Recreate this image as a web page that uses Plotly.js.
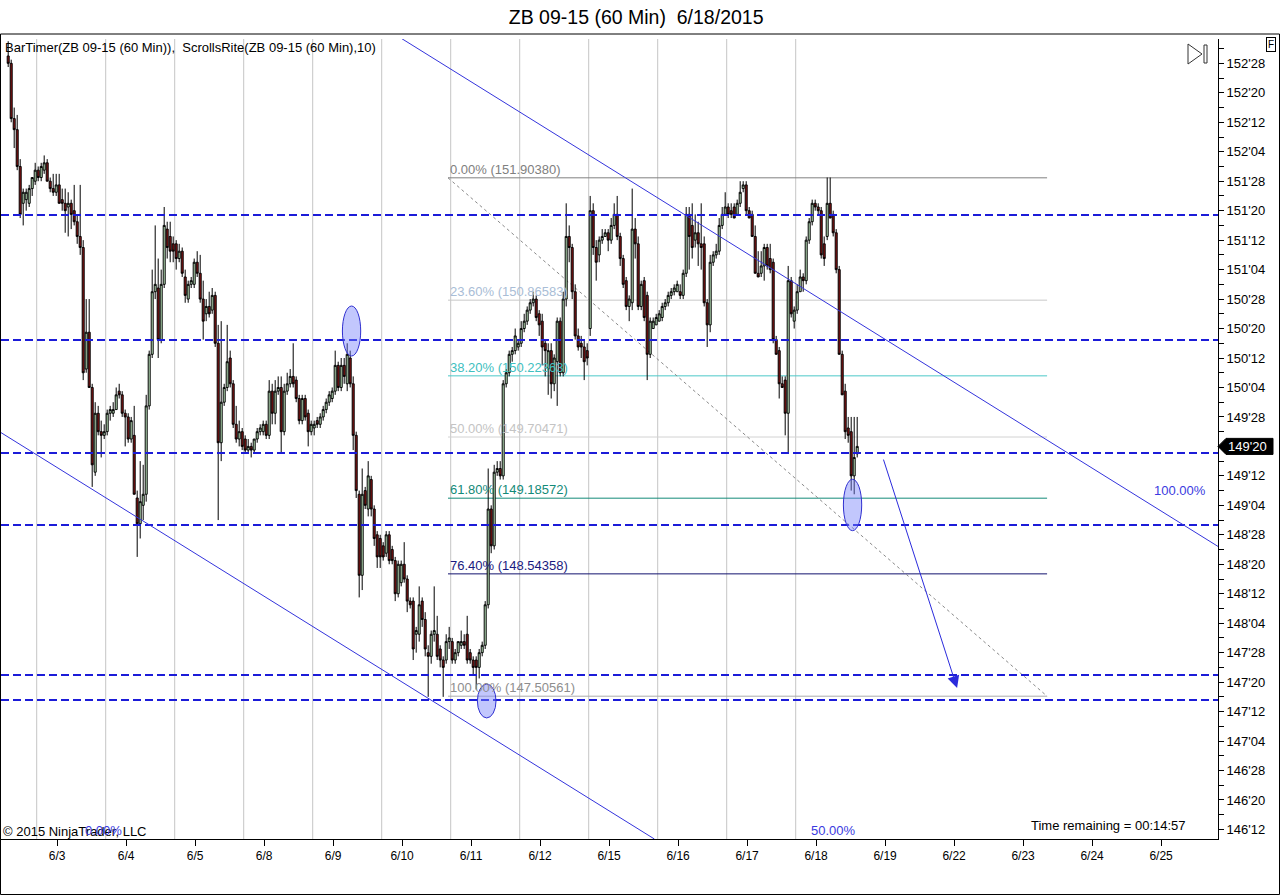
<!DOCTYPE html>
<html>
<head>
<meta charset="utf-8">
<script src="https://cdn.plot.ly/plotly-3.0.1.min.js"></script>
<style>
  body { margin: 0; background: #fff; }
  #chart { width: 1280px; height: 895px; }
</style>
</head>
<body>
<div id="chart"></div>
<script>
// ZB 09-15 hourly bars, prices in 32nds above 146'00 (so 116 = 149'20)
// one line per session, first line is the tail of 6/2
var barOpen = [
  222,220,205,202,192,182,183,182,186,188,
  191,189,191,193,188,186,185,187,183,182,181,182,180,177,173,170,137,147,132,109,125,120,119,
  120,125,125,126,131,130,125,124,118,119,102,95,100,103,127,141,158,159,145,160,175,173,171,
  171,167,169,162,156,160,160,166,163,156,152,154,153,157,144,117,128,132,140,133,122,118,120,
  118,115,116,115,118,120,120,122,119,131,125,131,132,120,131,133,135,134,129,123,129,125,120,
  121,123,122,124,126,128,129,131,138,132,138,133,140,133,119,103,81,104,99,107,99,92,91,
  89,87,92,88,85,76,79,84,80,74,74,65,65,74,69,60,59,65,65,61,58,58,63,
  63,58,60,62,63,65,60,58,58,56,60,62,73,99,89,109,110,108,133,136,141,142,143,
  144,148,150,153,155,156,152,150,144,137,142,133,139,150,136,156,173,170,158,146,144,143,142,
  148,180,170,168,172,173,174,172,176,179,173,167,161,154,155,175,171,154,161,157,141,148,149,
  150,151,154,155,157,158,158,158,157,163,179,176,172,174,171,171,155,149,166,168,169,176,179,
  181,180,181,179,182,186,187,180,179,173,163,163,165,170,167,166,145,142,133,134,125,161,150,
  153,158,162,161,172,177,182,181,180,171,173,182,179,174,164,141,131,121,120,108,114
];
var barHigh = [
  226,221,208,206,194,186,186,187,189,193,
  192,193,195,194,189,190,190,190,186,186,185,183,187,179,187,172,156,156,133,128,127,123,122,
  126,127,128,132,133,131,126,125,124,127,104,112,111,130,142,164,176,167,164,181,177,177,173,
  172,171,170,164,161,162,167,169,168,161,156,158,159,158,149,150,133,149,142,134,127,123,121,
  119,118,117,118,121,122,123,123,134,133,134,135,135,133,136,137,144,135,130,130,130,126,123,
  123,124,125,127,129,131,132,142,139,140,140,144,142,135,120,104,110,105,112,108,100,93,92,
  90,93,93,89,86,85,85,90,81,75,75,67,78,75,71,62,66,78,70,62,59,65,67,
  64,61,63,66,65,70,61,59,59,61,63,74,110,100,111,112,112,134,137,142,143,148,145,
  150,152,154,156,158,157,153,152,145,144,144,141,151,151,158,182,176,171,160,148,146,145,144,
  184,182,172,173,175,175,175,178,182,184,174,168,162,157,186,178,173,161,162,158,151,151,152,
  153,155,156,158,159,160,161,160,164,181,181,182,179,177,182,173,156,168,169,171,178,181,185,
  182,182,182,183,188,188,188,181,180,176,169,169,171,171,171,167,146,143,135,135,165,162,154,
  160,164,163,173,178,183,183,182,181,173,189,189,180,175,165,142,133,124,124,124,124
];
var barLow = [
  219,204,197,191,178,176,180,181,184,187,
  188,188,190,188,185,184,184,182,180,174,173,175,176,171,168,134,136,132,105,108,119,113,118,
  119,123,124,126,129,124,116,117,117,103,86,91,96,101,126,140,156,140,144,159,167,166,166,
  164,166,162,155,155,159,159,162,155,145,150,151,152,143,96,112,127,131,132,121,117,116,115,
  114,114,113,114,117,119,119,118,118,122,122,130,114,119,130,132,132,128,122,122,123,116,119,
  119,121,121,123,125,127,128,130,131,131,133,131,132,115,102,75,77,99,97,97,89,83,83,
  85,86,84,84,74,75,78,79,71,72,58,60,63,67,59,48,57,63,58,56,48,57,61,
  57,57,59,61,61,57,57,54,50,53,59,61,72,87,88,108,107,107,132,135,139,141,142,
  143,147,149,152,154,150,146,138,135,130,129,131,127,135,135,154,166,156,145,142,140,134,138,
  146,168,161,166,171,173,169,171,175,172,165,159,153,150,153,167,153,153,150,134,140,148,149,
  150,150,153,154,156,157,158,156,156,162,164,167,170,165,164,154,143,147,165,167,168,175,179,
  178,178,178,179,181,185,179,178,173,163,162,162,161,164,163,144,141,129,132,119,114,151,148,
  152,158,158,160,171,176,180,179,167,165,172,178,173,163,141,130,118,117,104,103,113
];
var barClose = [
  220,205,202,192,179,185,185,186,189,191,
  189,192,193,188,186,185,187,182,182,180,182,179,177,173,170,136,147,132,111,125,120,119,120,
  125,126,126,130,130,125,124,118,123,103,95,101,103,127,141,158,160,145,160,176,170,169,169,
  167,169,163,157,160,161,166,163,156,150,154,152,157,144,117,128,132,139,133,122,118,120,116,
  115,116,115,118,120,121,122,119,131,125,131,132,120,131,133,135,133,129,123,129,124,120,122,
  122,122,124,126,128,130,131,138,132,138,135,141,133,119,104,81,103,100,108,99,91,86,86,
  86,92,85,85,76,84,84,80,74,73,61,66,73,69,61,59,65,66,59,58,56,63,64,
  58,60,63,63,62,58,58,56,56,60,62,73,99,89,109,110,108,133,136,141,142,146,144,
  148,150,153,155,156,151,149,143,142,142,133,140,150,136,156,173,170,158,146,143,143,139,140,
  180,170,166,172,173,174,172,176,179,173,167,160,154,156,175,171,154,160,151,141,150,150,151,
  152,154,155,157,158,159,160,157,163,179,173,170,174,171,170,155,149,166,168,169,176,179,181,
  179,179,178,182,185,187,180,178,173,163,162,165,170,165,164,145,141,133,132,125,161,152,153,
  158,162,161,172,177,182,181,180,168,167,182,178,174,164,141,130,120,119,108,113,116
];
var firstBar = -10;          // bars of 6/2 before the 6/3 session
var barsPerSession = 23;
var dayLabels = ['6/3','6/4','6/5','6/8','6/9','6/10','6/11','6/12','6/15','6/16','6/17','6/18',
                 '6/19','6/22','6/23','6/24','6/25'];
var tradedSessions = 12;     // session separators drawn for 6/3 .. 6/18

// drawing objects, anchored as (bar, price)
var srLevels = [151.588, 150.527, 149.569, 148.958, 147.685, 147.473];
var fibPct = [0, 23.6, 38.2, 50, 61.8, 76.4, 100];
var fibPrice = [151.90380, 150.86583, 150.22363, 149.70471, 149.18572, 148.54358, 147.50561];
var fibBars = [136.6, 336.3];
var fibLineColors = ['#808080', '#c8c8c8', '#4cc8c8', '#d2d2d2', '#138a78', '#12126e', '#ababab'];
var fibTextColors = ['#808080', '#a9bdd6', '#40c0c0', '#c4c4c4', '#138a78', '#1a1a80', '#8e8e8e'];
var channelUpper = [[121.1, 153.086], [393.3, 148.776]];
var channelLower = [[-12.4, 149.742], [205.4, 146.294]];
var arrowFrom = [281.6, 149.526];
var arrowTo = [306.3, 147.575];
var ellipses = [
  [101.4, 107.5, 150.392, 150.816],
  [268.4, 274.5, 148.910, 149.346],
  [146.4, 152.6, 147.321, 147.609]
];

var BASE = 146;
var FONT = 'Liberation Sans, Arial, sans-serif';

function toPrice(t) { return BASE + t / 32; }
function fmt32(t) {
  var whole = BASE + Math.floor(t / 32);
  var frac = t % 32;
  return whole + "'" + (frac < 10 ? '0' : '') + frac;
}
// page pixel -> paper fraction (plot spans x 1..1218, y 39..839)
function px(x) { return (x - 1) / 1217; }
function py(y) { return (839 - y) / 800; }

var xs = [], o = [], h = [], l = [], c = [];
for (var i = 0; i < barClose.length; i++) {
  xs.push(i + firstBar);
  o.push(toPrice(barOpen[i]));
  h.push(toPrice(barHigh[i]));
  l.push(toPrice(barLow[i]));
  c.push(toPrice(barClose[i]));
}
var lastTick = barClose[barClose.length - 1];
var lastPrice = toPrice(lastTick);

var candles = {
  type: 'candlestick',
  x: xs, open: o, high: h, low: l, close: c,
  increasing: { line: { color: '#000', width: 1 }, fillcolor: '#bfe9bf' },
  decreasing: { line: { color: '#000', width: 1 }, fillcolor: '#8a1414' },
  whiskerwidth: 0,
  hoverinfo: 'skip',
  showlegend: false
};

// axis ticks; the label under the last-price marker is hidden by it
var yTickVals = [], yTickText = [], yMinor = [];
for (var t = 12; t <= 220; t += 8) {
  yTickVals.push(toPrice(t));
  yTickText.push(t === lastTick ? '' : fmt32(t));
}
for (var t2 = 8; t2 <= 224; t2 += 8) yMinor.push(toPrice(t2));
var xTickVals = dayLabels.map(function (d, k) { return k * barsPerSession + 6.3; });

var shapes = [];
for (var d = 0; d < tradedSessions; d++) {
  var sx = d * barsPerSession - 0.5;
  shapes.push({ type: 'line', xref: 'x', yref: 'paper', x0: sx, x1: sx, y0: 0, y1: 1,
    line: { color: '#c6c6c6', width: 1 }, layer: 'below' });
}
fibPrice.forEach(function (p, k) {
  shapes.push({ type: 'line', xref: 'x', yref: 'y', x0: fibBars[0], x1: fibBars[1], y0: p, y1: p,
    line: { color: fibLineColors[k], width: 1 }, layer: 'below' });
});
shapes.push({ type: 'line', xref: 'x', yref: 'y', x0: fibBars[0], x1: fibBars[1],
  y0: fibPrice[0], y1: fibPrice[fibPrice.length - 1],
  line: { color: '#8a8a8a', width: 1, dash: 'dot' }, layer: 'below' });
srLevels.forEach(function (p) {
  shapes.push({ type: 'line', xref: 'paper', yref: 'y', x0: 0, x1: 1, y0: p, y1: p,
    line: { color: '#1c1cd8', width: 2, dash: '8px,4px' } });
});
[channelUpper, channelLower].forEach(function (ch) {
  shapes.push({ type: 'line', xref: 'x', yref: 'y', x0: ch[0][0], y0: ch[0][1], x1: ch[1][0], y1: ch[1][1],
    line: { color: '#3434dc', width: 1 } });
});
ellipses.forEach(function (e) {
  shapes.push({ type: 'circle', xref: 'x', yref: 'y', x0: e[0], x1: e[1], y0: e[2], y1: e[3],
    fillcolor: 'rgba(120,130,250,0.45)', line: { color: '#3030d0', width: 1 } });
});
// last price marker on the axis
shapes.push({ type: 'path', xref: 'paper', yref: 'y',
  path: 'M ' + px(1218) + ',' + lastPrice + ' L ' + px(1226) + ',' + (lastPrice + 0.068) +
        ' L ' + px(1273) + ',' + (lastPrice + 0.068) + ' L ' + px(1273) + ',' + (lastPrice - 0.068) +
        ' L ' + px(1226) + ',' + (lastPrice - 0.068) + ' Z',
  fillcolor: '#000', line: { color: '#000', width: 1 } });
// scroll icon
shapes.push({ type: 'path', xref: 'paper', yref: 'paper',
  path: 'M ' + px(1188) + ',' + py(44) + ' L ' + px(1188) + ',' + py(64) + ' L ' + px(1202) + ',' + py(54) + ' Z',
  line: { color: '#333', width: 1 } });
shapes.push({ type: 'rect', xref: 'paper', yref: 'paper', x0: px(1204), x1: px(1207), y0: py(63), y1: py(45),
  line: { color: '#333', width: 1 } });
// outer frame
shapes.push({ type: 'rect', xref: 'paper', yref: 'paper', x0: px(0.5), x1: px(1279.5), y0: py(894.5), y1: py(34),
  line: { color: '#000', width: 1 } });

var annotations = [];
fibPrice.forEach(function (p, k) {
  annotations.push({ xref: 'x', yref: 'y', x: fibBars[0], y: p, xanchor: 'left', yanchor: 'bottom',
    text: fibPct[k].toFixed(2) + '% (' + p.toFixed(5) + ')', showarrow: false, yshift: -1,
    font: { family: FONT, size: 13, color: fibTextColors[k] } });
});
function label(text, x, y, anchor, color) {
  annotations.push({ xref: 'paper', yref: 'paper', x: x, y: y, xanchor: anchor, yanchor: 'middle',
    text: text, showarrow: false, font: { family: FONT, size: 13, color: color || '#000' } });
}
label('BarTimer(ZB 09-15 (60 Min)),  ScrollsRite(ZB 09-15 (60 Min),10)', px(3), py(47), 'left');
label('© 2015 NinjaTrader, LLC', px(1), py(831), 'left');
label('0.00%', px(83), py(830), 'left', '#3a3ae0');
label('50.00%', px(809), py(830), 'left', '#3a3ae0');
label('100.00%', px(1152), py(490), 'left', '#3a3ae0');
label('Time remaining = 00:14:57', px(1188), py(825), 'right');
annotations.push({ xref: 'paper', yref: 'y', x: px(1248), y: lastPrice, xanchor: 'center', yanchor: 'middle',
  text: fmt32(lastTick), showarrow: false,
  font: { family: FONT, size: 13, color: '#fff' } });
annotations.push({ xref: 'paper', yref: 'paper', x: px(1270.5), y: py(44.5), xanchor: 'center', yanchor: 'middle',
  text: 'F', showarrow: false, bordercolor: '#000', borderwidth: 1, borderpad: 1,
  font: { family: FONT, size: 10, color: '#000' } });
annotations.push({ xref: 'x', yref: 'y', axref: 'x', ayref: 'y',
  x: arrowTo[0], y: arrowTo[1], ax: arrowFrom[0], ay: arrowFrom[1], text: '',
  showarrow: true, arrowhead: 2, arrowsize: 2.4, arrowwidth: 1, arrowcolor: '#2b2bdc', standoff: 0 });

var layout = {
  width: 1280, height: 895,
  margin: { l: 1, r: 62, t: 39, b: 56 },
  paper_bgcolor: '#fff', plot_bgcolor: '#fff',
  font: { family: FONT, size: 12, color: '#000' },
  title: { text: 'ZB 09-15 (60 Min)\u00a0\u00a06/18/2015', x: 0.497, xref: 'container',
           y: 0.981, yref: 'container', yanchor: 'middle', font: { family: FONT, size: 19.5, color: '#000' } },
  showlegend: false,
  boxgap: 0.05,
  xaxis: {
    range: [-12.4, 393.27], rangeslider: { visible: false },
    tickmode: 'array', tickvals: xTickVals, ticktext: dayLabels,
    ticks: 'outside', ticklen: 6, tickcolor: '#000',
    showgrid: false, zeroline: false, showline: true, linecolor: '#000', linewidth: 1,
    tickfont: { family: FONT, size: 12, color: '#000' }, fixedrange: true
  },
  yaxis: {
    range: [146.294, 153.0816], side: 'right',
    tickmode: 'array', tickvals: yTickVals, ticktext: yTickText,
    ticks: 'outside', ticklen: 5, tickcolor: '#000',
    minor: { tickmode: 'array', tickvals: yMinor, ticks: 'outside', ticklen: 5, tickcolor: '#000', showgrid: false },
    showgrid: false, zeroline: false, showline: true, linecolor: '#000', linewidth: 1,
    tickfont: { family: FONT, size: 13, color: '#000' }, fixedrange: true
  },
  shapes: shapes,
  annotations: annotations
};

Plotly.newPlot('chart', [candles], layout, { staticPlot: true, displayModeBar: false });
</script>
</body>
</html>
